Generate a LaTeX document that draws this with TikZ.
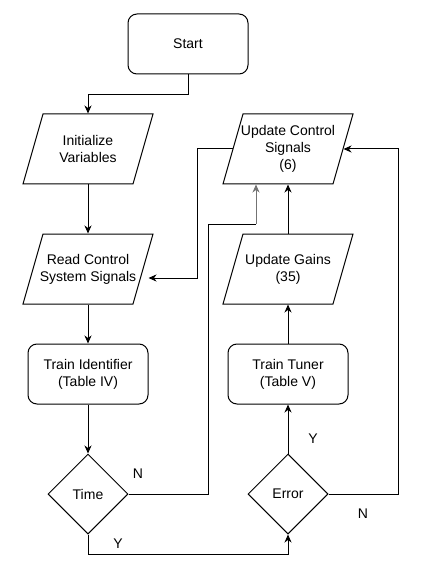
\documentclass[tikz,border=0pt]{standalone}
\usepackage{fontspec}
\setmainfont{Liberation Sans}
\usetikzlibrary{arrows.meta,shapes.geometric,calc}
\newcommand\pgramoutline[1]{\draw ([shift={(-45,-35)}]#1.center) -- ([shift={(65,-35)}]#1.center) -- ([shift={(45,35)}]#1.center) -- ([shift={(-65,35)}]#1.center) -- cycle;}
\begin{document}
\begin{tikzpicture}[x=1pt,y=-1pt, line width=1pt,
 every node/.style={font=\fontsize{14}{17}\selectfont, align=center},
 rbox/.style={draw, rounded corners=9pt, minimum width=120pt, minimum height=60pt, inner sep=0pt},
 pbox/.style={minimum width=110pt, minimum height=70pt, inner sep=0pt},
 dbox/.style={draw, diamond, minimum width=80pt, minimum height=80pt, inner sep=0pt, aspect=1},
 arr/.style={-{Stealth[length=8pt,width=7pt,inset=2.5pt]}},
 lbl/.style={inner sep=0pt}]
\useasboundingbox (0,0) rectangle (432,577);
\node[rbox] (start) at (188,44) {Start};
\node[pbox] (init) at (88,149) {Initialize\\Variables};
\pgramoutline{init}
\node[pbox] (rcs) at (88,269) {Read Control\\System Signals};
\pgramoutline{rcs}
\node[rbox] (ti) at (88,374) {Train Identifier\\(Table IV)};
\node[dbox] (time) at (88,494) {Time};
\node[pbox] (ucs) at (288,149) {Update Control\\Signals\\(6)};
\pgramoutline{ucs}
\node[pbox] (ug) at (288,269) {Update Gains\\(35)};
\pgramoutline{ug}
\node[rbox] (tt) at (288,374) {Train Tuner\\(Table V)};
\node[dbox] (err) at (288,494) {Error};
\node[lbl] (n1) at (138,474) {N};
\node[lbl] (y1) at (118,544) {Y};
\node[lbl] (y2) at (313,439) {Y};
\node[lbl] (n2) at (363,514) {N};
\draw[arr] (start.south) -- ++(0,20) -| (init.north);
\draw[arr] (init.south) -- (rcs.north);
\draw[arr] (rcs.south) -- (ti.north);
\draw[arr] (ti.south) -- (time.north);
\coordinate (g) at (256,224);
\draw (time.east) -| (208,224) -- (g);
\draw[arr,black!55] (g) -- (g |- ucs.south);
\draw[arr] (ucs.west) -- ++(-35,0) |- ([shift={(5,9)}]rcs.east);
\draw[arr] (ug.north) -- (ucs.south);
\draw[arr] (tt.north) -- (ug.south);
\draw[arr] (err.north) -- (tt.south);
\draw[arr] (err.east) -- ++(70,0) |- (ucs.east);
\draw[arr] (time.south) -- ++(0,20) -| (err.south);
\end{tikzpicture}
\end{document}
